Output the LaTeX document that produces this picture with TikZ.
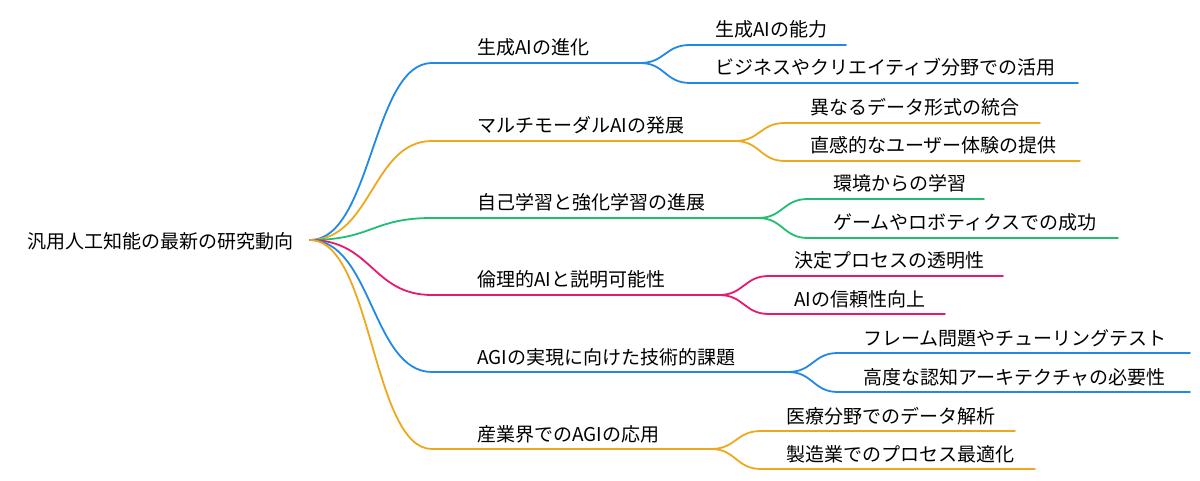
\documentclass[tikz,border=0pt]{standalone}
\usepackage{fontspec}
\setmainfont{Noto Sans CJK JP}
\definecolor{mmblue}{RGB}{33,136,229}
\definecolor{mmorange}{RGB}{238,168,30}
\definecolor{mmgreen}{RGB}{32,190,112}
\definecolor{mmpink}{RGB}{230,25,110}

\begin{document}
\begin{tikzpicture}[x=1pt,y=-1pt] % pixel coordinates, y downwards
    \tikzstyle{label}=[anchor=base west, inner sep=0pt, font=\fontsize{19}{19}\selectfont]
    \tikzstyle{edge}=[line width=1.8pt, line cap=round]
    \useasboundingbox (0,0) rectangle (1200,481);

    \node[label] (root) at (27,249) {汎用人工知能の最新の研究動向};
    \coordinate (hub) at (310,240);

    % main branches: number / line y / fork x / colour / text
    \foreach \n/\ly/\f/\c/\t in {
        1/63/640/mmblue/生成AIの進化,
        2/141/735/mmorange/マルチモーダルAIの発展,
        3/218/758/mmgreen/自己学習と強化学習の進展,
        4/295/719/mmpink/倫理的AIと説明可能性,
        5/372/788/mmblue/AGIの実現に向けた技術的課題,
        6/449/711/mmorange/産業界でのAGIの応用} {
        \coordinate (b\n in) at (432,\ly);
        \coordinate (b\n fork) at (\f,\ly);
        \node[label] (b\n) at (477,\ly-8) {\t};
        \draw[edge,\c] (hub) .. controls (372,240) and (372,\ly) .. (b\n in) -- (b\n fork);
    }

    % leaves: branch / line y / end x / colour / text
    \foreach \n/\m/\ly/\e/\c/\t in {
        1/a/45/846/mmblue/生成AIの能力,
        1/b/83/1078/mmblue/ビジネスやクリエイティブ分野での活用,
        2/a/123/1040/mmorange/異なるデータ形式の統合,
        2/b/161/1080/mmorange/直感的なユーザー体験の提供,
        3/a/199/984/mmgreen/環境からの学習,
        3/b/238/1118/mmgreen/ゲームやロボティクスでの成功,
        4/a/276/1003/mmpink/決定プロセスの透明性,
        4/b/314/945/mmpink/AIの信頼性向上,
        5/a/353/1190/mmblue/フレーム問題やチューリングテスト,
        5/b/392/1190/mmblue/高度な認知アーキテクチャの必要性,
        6/a/431/1015/mmorange/医療分野でのデータ解析,
        6/b/469/1035/mmorange/製造業でのプロセス最適化} {
        \coordinate (row) at (0,\ly);
        \coordinate (row text) at (0,\ly-8);
        \coordinate (l\n\m in) at ([xshift=50pt]b\n fork |- row);
        \coordinate (l\n\m end) at (\e,\ly);
        \node[label] (l\n\m) at ([xshift=75pt]b\n fork |- row text) {\t};
        \draw[edge,\c] (b\n fork) .. controls +(25,0) and +(-25,0) .. (l\n\m in) -- (l\n\m end);
    }
\end{tikzpicture}
\end{document}
